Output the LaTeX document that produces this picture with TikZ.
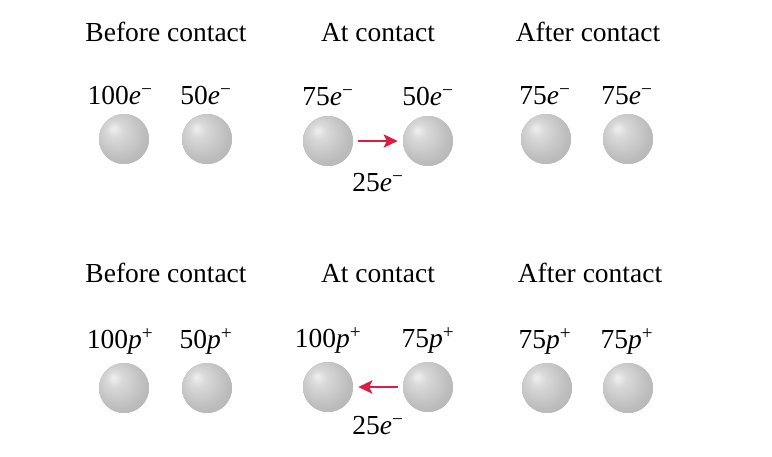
\documentclass[tikz,border=0pt]{standalone}
\usepackage{fontspec}
\setmainfont{Liberation Serif}
\usetikzlibrary{arrows.meta}

\definecolor{arrowred}{RGB}{222,28,68}
\pgfdeclareradialshading{sphere}{\pgfpoint{-11bp}{11bp}}{%
  color(0bp)=(gray!12); color(8bp)=(gray!30); color(26bp)=(gray!52); color(42bp)=(gray!64); color(50bp)=(gray!72)}

\tikzstyle{ball} = [circle, minimum size=50pt, inner sep=0pt, preaction={fill=gray!66}, shading=sphere]
\tikzstyle{title} = [anchor=base, font=\fontsize{27.5}{32}\selectfont]
\tikzstyle{charge} = [anchor=base, font=\fontsize{27.5}{32}\selectfont, inner sep=0pt]
\tikzstyle{arrow} = [draw=arrowred, line width=2.8pt, -{Stealth[length=14pt,width=13pt,inset=3pt]}, shorten >=5pt, shorten <=5pt]

\newcommand{\elec}[1]{#1\textit{e}\textsuperscript{−}}
\newcommand{\prot}[1]{#1\textit{p}\textsuperscript{+}}

\begin{document}
\begin{tikzpicture}[x=1pt, y=-1pt]
    \useasboundingbox (0,0) rectangle (772,457);

    % titles
    \node[title] (beforeA) at (166,42) {Before contact};
    \node[title] (atA) at (378,42) {At contact};
    \node[title] (afterA) at (588,42) {After contact};
    \node[title] (beforeB) at (166,283) {Before contact};
    \node[title] (atB) at (378,283) {At contact};
    \node[title] (afterB) at (590,283) {After contact};

    % electrons
    \node[charge] (qA1) at (120,105) {\elec{100}};
    \node[charge] (qA2) at (206,105) {\elec{50}};
    \node[charge] (qA3) at (328,106) {\elec{75}};
    \node[charge] (qA4) at (428,106) {\elec{50}};
    \node[charge] (qA5) at (545,105) {\elec{75}};
    \node[charge] (qA6) at (627,105) {\elec{75}};
    \node[ball] (sA1) at (124,139) {};
    \node[ball] (sA2) at (207,139) {};
    \node[ball] (sA3) at (328,141) {};
    \node[ball] (sA4) at (428,141) {};
    \node[ball] (sA5) at (546,139) {};
    \node[ball] (sA6) at (628,139) {};
    \node[charge] (flowA) at (378,192) {\elec{25}};

    % protons
    \node[charge] (qB1) at (120,349) {\prot{100}};
    \node[charge] (qB2) at (206,349) {\prot{50}};
    \node[charge] (qB3) at (328,348) {\prot{100}};
    \node[charge] (qB4) at (428,348) {\prot{75}};
    \node[charge] (qB5) at (545,349) {\prot{75}};
    \node[charge] (qB6) at (627,349) {\prot{75}};
    \node[ball] (sB1) at (124,388) {};
    \node[ball] (sB2) at (207,388) {};
    \node[ball] (sB3) at (328,387) {};
    \node[ball] (sB4) at (428,387) {};
    \node[ball] (sB5) at (547,388) {};
    \node[ball] (sB6) at (628,388) {};
    \node[charge] (flowB) at (378,435) {\elec{25}};

    % lines
    \draw [arrow] (sA3.east) to (sA4.west);
    \draw [arrow] (sB4.west) to (sB3.east);
\end{tikzpicture}
\end{document}
